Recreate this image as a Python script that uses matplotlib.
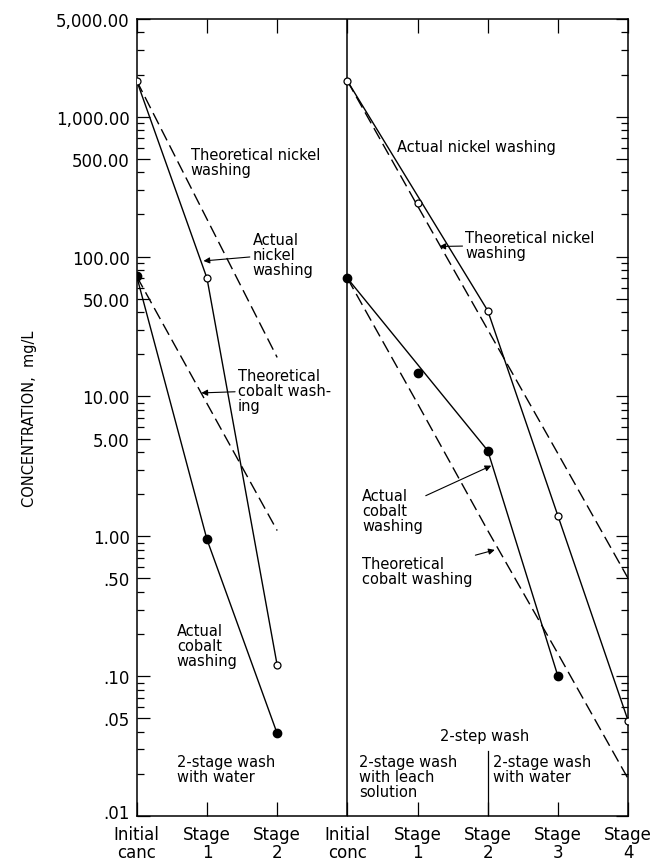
import matplotlib
matplotlib.use("Agg")
import matplotlib.pyplot as plt
from matplotlib.ticker import FixedLocator, FixedFormatter, NullFormatter
from matplotlib.transforms import ScaledTranslation

# stage positions: left = 2-stage wash with water, right = 2-step wash
left_x = [0, 1, 2]
right_x = [3, 4, 5, 6, 7]
stage_labels = ["Initial\ncanc", "Stage\n1", "Stage\n2", "Initial\nconc",
                "Stage\n1", "Stage\n2", "Stage\n3", "Stage\n4"]

# concentrations, mg/L
left_ni_actual = [1800, 70, 0.12]
left_ni_theory = [1800, 185, 19]
left_co_actual = [72, 0.95, 0.039]
left_co_theory = [72, 8.9, 1.1]

right_ni_actual = [1800, 240, 41, 1.4, 0.048]
right_ni_theory = [1800, 230, 30, 3.9, 0.5]
right_co_actual = [70, 14.7, 4.1, 0.10]
right_co_theory = [70, 8.9, 1.1, 0.145, 0.0185]

y_major = [0.01, 0.05, 0.1, 0.5, 1, 5, 10, 50, 100, 500, 1000, 5000]
y_major_lbl = [".01", ".05", ".10", ".50", "1.00", "5.00", "10.00", "50.00",
               "100.00", "500.00", "1,000.00", "5,000.00"]

plt.rcParams['font.family'] = ['DejaVu Sans']

fig = plt.figure(figsize=(6.64, 8.62), dpi=100)
ax = fig.add_axes([0.206, 0.052, 0.740, 0.925])
ax.set_yscale("log")
ax.set_xlim(0, 7)
ax.set_ylim(0.01, 5000)

dash = (0, (9, 4))
lw = 1.0

# left panel
ax.plot(left_x, left_ni_actual, color="black", lw=lw, marker="o", ms=5,
        mfc="white", mec="black", mew=0.9, zorder=3)
ax.plot(left_x, left_ni_theory, color="black", lw=lw, ls=dash)
ax.plot(left_x, left_co_actual, color="black", lw=lw, marker="o", ms=6,
        mfc="black", mec="black", zorder=3)
ax.plot(left_x, left_co_theory, color="black", lw=lw, ls=dash)

# right panel: actual lines go initial -> stage 2 directly
ni_line = [0, 2, 3, 4]
ax.plot([right_x[i] for i in ni_line], [right_ni_actual[i] for i in ni_line],
        color="black", lw=lw)
ax.plot(right_x, right_ni_actual, ls="none", marker="o", ms=5,
        mfc="white", mec="black", mew=0.9, zorder=3)
ax.plot(right_x, right_ni_theory, color="black", lw=lw, ls=dash)

co_line = [0, 2, 3]
ax.plot([right_x[i] for i in co_line], [right_co_actual[i] for i in co_line],
        color="black", lw=lw)
ax.plot(right_x[:4], right_co_actual, ls="none", marker="o", ms=6,
        mfc="black", mec="black", zorder=3)
ax.plot(right_x, right_co_theory, color="black", lw=lw, ls=dash)

# separators
ax.axvline(3, color="black", lw=1.1)
ax.plot([5, 5], [0.01, 0.029], color="black", lw=0.9)

# axes styling
for s in ax.spines.values():
    s.set_linewidth(1.1)
ax.set_xticks(range(8))
ax.set_xticklabels(stage_labels, fontsize=12, linespacing=1.05)
ax.yaxis.set_major_locator(FixedLocator(y_major))
ax.yaxis.set_major_formatter(FixedFormatter(y_major_lbl))
minors = [m * 10.0 ** e for e in range(-2, 4) for m in (2, 3, 4, 6, 7, 8, 9)]
ax.yaxis.set_minor_locator(FixedLocator([v for v in minors if v < 5000]))
ax.yaxis.set_minor_formatter(NullFormatter())
ax.tick_params(axis="both", which="both", direction="in", top=True, right=True,
               width=0.9)
ax.tick_params(axis="y", which="major", length=9, labelsize=12, pad=5)
ax.tick_params(axis="y", which="minor", length=5)
ax.tick_params(axis="x", which="major", length=10, pad=6)
ax.set_ylabel("CONCENTRATION,  mg/L", fontsize=10.5, labelpad=14)

# lift the ".01" label a little so it clears "Initial"
fig.canvas.draw()
low = ax.get_yticklabels()[0]
low.set_transform(low.get_transform() + ScaledTranslation(0, 4 / 72, fig.dpi_scale_trans))

fs = 10.5
arr = dict(arrowstyle="-|>", color="black", lw=0.8, mutation_scale=9,
           shrinkA=0, shrinkB=0)

ax.text(0.77, 475, "Theoretical nickel\nwashing", fontsize=fs, va="center",
        linespacing=1.0)
ax.annotate("Actual\nnickel\nwashing", xy=(0.95, 93), xytext=(1.65, 104),
            fontsize=fs, va="center", linespacing=1.0, arrowprops=arr)
ax.annotate("Theoretical\ncobalt wash-\ning", xy=(0.92, 10.6), xytext=(1.44, 11.1),
            fontsize=fs, va="center", linespacing=1.0, arrowprops=arr)
ax.text(0.57, 0.165, "Actual\ncobalt\nwashing", fontsize=fs, va="center",
        linespacing=1.0)
ax.text(0.57, 0.0218, "2-stage wash\nwith water", fontsize=fs, va="center",
        linespacing=1.0)

ax.text(3.71, 608, "Actual nickel washing", fontsize=fs, va="center")
ax.annotate("Theoretical nickel\nwashing", xy=(4.31, 118), xytext=(4.68, 121),
            fontsize=fs, va="center", linespacing=1.0, arrowprops=arr)
ax.annotate("Actual\ncobalt\nwashing", xy=(5.05, 3.2), xytext=(3.21, 1.52),
            fontsize=fs, va="center", linespacing=1.0, arrowprops=arr)
ax.annotate("Theoretical\ncobalt washing", xy=(5.1, 0.8), xytext=(3.21, 0.566),
            fontsize=fs, va="center", linespacing=1.0, arrowprops=arr)
ax.text(4.96, 0.0375, "2-step wash", fontsize=fs, va="center", ha="center")
ax.text(3.17, 0.0191, "2-stage wash\nwith leach\nsolution", fontsize=fs,
        va="center", linespacing=1.0)
ax.text(5.07, 0.0218, "2-stage wash\nwith water", fontsize=fs, va="center",
        linespacing=1.0)

fig.savefig("out.png", dpi=100)
